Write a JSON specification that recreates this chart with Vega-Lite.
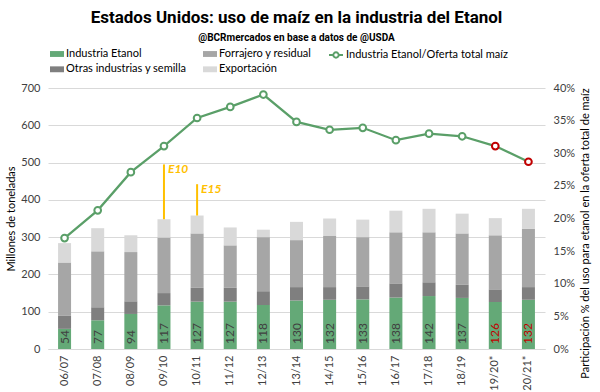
{
  "$schema": "https://vega.github.io/schema/vega-lite/v6.json",
  "autosize": {"type": "none"},
  "padding": {"left": 48, "top": 88, "right": 55, "bottom": 43},
  "width": 497,
  "height": 261,
  "background": "white",
  "title": {
    "text": "Estados Unidos: uso de maíz en la industria del Etanol",
    "subtitle": "@BCRmercados en base a datos de @USDA",
    "anchor": "middle",
    "frame": "group",
    "font": "Roboto",
    "fontSize": 17,
    "fontWeight": "bold",
    "color": "#000000",
    "subtitleFont": "Roboto",
    "subtitleFontSize": 10,
    "subtitleFontWeight": "bold",
    "subtitleColor": "#000000",
    "subtitlePadding": 6,
    "offset": 3
  },
  "datasets": {
    "usos": [
      {"season": "06/07", "serie": "Industria Etanol", "valor": 54},
      {"season": "06/07", "serie": "Otras industrias y semilla", "valor": 36},
      {"season": "06/07", "serie": "Forrajero y residual", "valor": 142},
      {"season": "06/07", "serie": "Exportación", "valor": 52},
      {"season": "07/08", "serie": "Industria Etanol", "valor": 77},
      {"season": "07/08", "serie": "Otras industrias y semilla", "valor": 35},
      {"season": "07/08", "serie": "Forrajero y residual", "valor": 150},
      {"season": "07/08", "serie": "Exportación", "valor": 62},
      {"season": "08/09", "serie": "Industria Etanol", "valor": 94},
      {"season": "08/09", "serie": "Otras industrias y semilla", "valor": 34},
      {"season": "08/09", "serie": "Forrajero y residual", "valor": 132},
      {"season": "08/09", "serie": "Exportación", "valor": 45},
      {"season": "09/10", "serie": "Industria Etanol", "valor": 117},
      {"season": "09/10", "serie": "Otras industrias y semilla", "valor": 33},
      {"season": "09/10", "serie": "Forrajero y residual", "valor": 149},
      {"season": "09/10", "serie": "Exportación", "valor": 49},
      {"season": "10/11", "serie": "Industria Etanol", "valor": 127},
      {"season": "10/11", "serie": "Otras industrias y semilla", "valor": 37},
      {"season": "10/11", "serie": "Forrajero y residual", "valor": 146},
      {"season": "10/11", "serie": "Exportación", "valor": 48},
      {"season": "11/12", "serie": "Industria Etanol", "valor": 127},
      {"season": "11/12", "serie": "Otras industrias y semilla", "valor": 37},
      {"season": "11/12", "serie": "Forrajero y residual", "valor": 114},
      {"season": "11/12", "serie": "Exportación", "valor": 48},
      {"season": "12/13", "serie": "Industria Etanol", "valor": 118},
      {"season": "12/13", "serie": "Otras industrias y semilla", "valor": 37},
      {"season": "12/13", "serie": "Forrajero y residual", "valor": 145},
      {"season": "12/13", "serie": "Exportación", "valor": 20},
      {"season": "13/14", "serie": "Industria Etanol", "valor": 130},
      {"season": "13/14", "serie": "Otras industrias y semilla", "valor": 36},
      {"season": "13/14", "serie": "Forrajero y residual", "valor": 126},
      {"season": "13/14", "serie": "Exportación", "valor": 49},
      {"season": "14/15", "serie": "Industria Etanol", "valor": 132},
      {"season": "14/15", "serie": "Otras industrias y semilla", "valor": 34},
      {"season": "14/15", "serie": "Forrajero y residual", "valor": 137},
      {"season": "14/15", "serie": "Exportación", "valor": 47},
      {"season": "15/16", "serie": "Industria Etanol", "valor": 133},
      {"season": "15/16", "serie": "Otras industrias y semilla", "valor": 35},
      {"season": "15/16", "serie": "Forrajero y residual", "valor": 132},
      {"season": "15/16", "serie": "Exportación", "valor": 47},
      {"season": "16/17", "serie": "Industria Etanol", "valor": 138},
      {"season": "16/17", "serie": "Otras industrias y semilla", "valor": 38},
      {"season": "16/17", "serie": "Forrajero y residual", "valor": 137},
      {"season": "16/17", "serie": "Exportación", "valor": 58},
      {"season": "17/18", "serie": "Industria Etanol", "valor": 142},
      {"season": "17/18", "serie": "Otras industrias y semilla", "valor": 37},
      {"season": "17/18", "serie": "Forrajero y residual", "valor": 134},
      {"season": "17/18", "serie": "Exportación", "valor": 63},
      {"season": "18/19", "serie": "Industria Etanol", "valor": 137},
      {"season": "18/19", "serie": "Otras industrias y semilla", "valor": 35},
      {"season": "18/19", "serie": "Forrajero y residual", "valor": 138},
      {"season": "18/19", "serie": "Exportación", "valor": 53},
      {"season": "19/20*", "serie": "Industria Etanol", "valor": 126},
      {"season": "19/20*", "serie": "Otras industrias y semilla", "valor": 34},
      {"season": "19/20*", "serie": "Forrajero y residual", "valor": 145},
      {"season": "19/20*", "serie": "Exportación", "valor": 46},
      {"season": "20/21*", "serie": "Industria Etanol", "valor": 132},
      {"season": "20/21*", "serie": "Otras industrias y semilla", "valor": 34},
      {"season": "20/21*", "serie": "Forrajero y residual", "valor": 156},
      {"season": "20/21*", "serie": "Exportación", "valor": 54}
    ],
    "apilado": [
      {"serie": "Industria Etanol", "orden": 1},
      {"serie": "Otras industrias y semilla", "orden": 2},
      {"serie": "Forrajero y residual", "orden": 3},
      {"serie": "Exportación", "orden": 4}
    ],
    "ratio": [
      {"season": "06/07", "pct": 0.170},
      {"season": "07/08", "pct": 0.2125},
      {"season": "08/09", "pct": 0.271},
      {"season": "09/10", "pct": 0.311},
      {"season": "10/11", "pct": 0.354},
      {"season": "11/12", "pct": 0.371},
      {"season": "12/13", "pct": 0.390},
      {"season": "13/14", "pct": 0.348},
      {"season": "14/15", "pct": 0.336},
      {"season": "15/16", "pct": 0.339},
      {"season": "16/17", "pct": 0.320},
      {"season": "17/18", "pct": 0.330},
      {"season": "18/19", "pct": 0.326},
      {"season": "19/20*", "pct": 0.311},
      {"season": "20/21*", "pct": 0.287}
    ],
    "eventos": [
      {"season": "09/10", "evento": "E10", "desde": 348, "hasta": 495},
      {"season": "10/11", "evento": "E15", "desde": 358, "hasta": 442}
    ]
  },
  "layer": [
    {
      "layer": [
        {
          "data": {"name": "usos"},
          "transform": [{"lookup": "serie", "from": {"data": {"name": "apilado"}, "key": "serie", "fields": ["orden"]}}],
          "mark": {"type": "bar", "size": 13},
          "encoding": {
            "x": {
              "field": "season", "type": "ordinal", "sort": null,
              "axis": {"title": null, "labelAngle": 270, "labelFontSize": 11, "labelColor": "#404040", "labelPadding": 6, "ticks": false, "domain": true, "domainColor": "#D9D9D9"}
            },
            "y": {
              "field": "valor", "type": "quantitative", "stack": "zero",
              "scale": {"domain": [0, 700]},
              "axis": {"title": "Millones de toneladas", "values": [0, 100, 200, 300, 400, 500, 600, 700], "grid": true, "gridColor": "#D9D9D9", "domain": false, "ticks": false, "labelPadding": 8, "labelFontSize": 11, "labelColor": "#404040", "labelOverlap": false, "titleFontSize": 11, "titleFontWeight": "normal", "titleColor": "#000000", "titlePadding": 4}
            },
            "order": {"field": "orden", "type": "quantitative", "sort": "ascending"},
            "color": {
              "field": "serie", "type": "nominal",
              "scale": {"domain": ["Industria Etanol", "Otras industrias y semilla", "Forrajero y residual", "Exportación"], "range": ["#64A977", "#7F7F7F", "#A6A6A6", "#D9D9D9"]},
              "legend": {
                "orient": "none", "legendX": 2, "legendY": -41, "direction": "horizontal", "columns": 2,
                "values": ["Industria Etanol", "Forrajero y residual", "Otras industrias y semilla", "Exportación"],
                "title": null, "padding": 0, "columnPadding": 16, "rowPadding": 3.3,
                "symbolType": "M-1,-0.42H1V0.42H-1Z", "symbolSize": 196, "symbolStrokeWidth": 0,
                "labelFontSize": 11, "labelColor": "#000000", "labelOffset": 2
              }
            }
          }
        },
        {
          "data": {"name": "usos"},
          "transform": [{"filter": "datum.serie === 'Industria Etanol'"}],
          "mark": {"type": "text", "angle": 270, "align": "left", "baseline": "middle", "dx": 5, "fontSize": 12},
          "encoding": {
            "x": {"field": "season", "type": "ordinal", "sort": null},
            "y": {"datum": 0, "type": "quantitative", "axis": {"title": "Millones de toneladas", "values": [0, 100, 200, 300, 400, 500, 600, 700], "grid": true, "gridColor": "#D9D9D9", "domain": false, "ticks": false, "labelPadding": 8, "labelFontSize": 11, "labelColor": "#404040", "labelOverlap": false, "titleFontSize": 11, "titleFontWeight": "normal", "titleColor": "#000000", "titlePadding": 4}},
            "text": {"field": "valor", "type": "quantitative"},
            "color": {"condition": {"test": "datum.season === '19/20*' || datum.season === '20/21*'", "value": "#C00000"}, "value": "#404040"}
          }
        },
        {
          "data": {"name": "eventos"},
          "mark": {"type": "rule", "color": "#FFC000", "strokeWidth": 2},
          "encoding": {
            "x": {"field": "season", "type": "ordinal", "sort": null},
            "y": {"field": "desde", "type": "quantitative", "axis": {"title": "Millones de toneladas", "values": [0, 100, 200, 300, 400, 500, 600, 700], "grid": true, "gridColor": "#D9D9D9", "domain": false, "ticks": false, "labelPadding": 8, "labelFontSize": 11, "labelColor": "#404040", "labelOverlap": false, "titleFontSize": 11, "titleFontWeight": "normal", "titleColor": "#000000", "titlePadding": 4}},
            "y2": {"field": "hasta"}
          }
        },
        {
          "data": {"name": "eventos"},
          "mark": {"type": "text", "align": "left", "baseline": "top", "dx": 4, "dy": 0, "fontSize": 12, "fontWeight": "bold", "fontStyle": "italic", "color": "#FFC000"},
          "encoding": {
            "x": {"field": "season", "type": "ordinal", "sort": null},
            "y": {"field": "hasta", "type": "quantitative", "axis": {"title": "Millones de toneladas", "values": [0, 100, 200, 300, 400, 500, 600, 700], "grid": true, "gridColor": "#D9D9D9", "domain": false, "ticks": false, "labelPadding": 8, "labelFontSize": 11, "labelColor": "#404040", "labelOverlap": false, "titleFontSize": 11, "titleFontWeight": "normal", "titleColor": "#000000", "titlePadding": 4}},
            "text": {"field": "evento"}
          }
        }
      ]
    },
    {
      "layer": [
        {
          "data": {"name": "ratio"},
          "mark": {"type": "line", "color": "#5A9F68", "strokeWidth": 2.25},
          "encoding": {
            "x": {"field": "season", "type": "ordinal", "sort": null},
            "y": {
              "field": "pct", "type": "quantitative",
              "scale": {"domain": [0, 0.4]},
              "axis": {"orient": "right", "title": "Participación % del uso para etanol en la oferta total de maíz", "values": [0, 0.05, 0.1, 0.15, 0.2, 0.25, 0.3, 0.35, 0.4], "format": ".0%", "grid": false, "domain": false, "ticks": false, "labelPadding": 8, "labelFontSize": 11, "labelColor": "#404040", "labelOverlap": false, "titleFontSize": 11, "titleFontWeight": "normal", "titleColor": "#000000", "titleAngle": 270, "titlePadding": 16, "titleY": 145}
            }
          }
        },
        {
          "data": {"name": "ratio"},
          "mark": {"type": "point", "filled": true, "fill": "white", "size": 45, "strokeWidth": 2, "opacity": 1},
          "encoding": {
            "x": {"field": "season", "type": "ordinal", "sort": null},
            "y": {"field": "pct", "type": "quantitative", "axis": {"orient": "right", "title": "Participación % del uso para etanol en la oferta total de maíz", "values": [0, 0.05, 0.1, 0.15, 0.2, 0.25, 0.3, 0.35, 0.4], "format": ".0%", "grid": false, "domain": false, "ticks": false, "labelPadding": 8, "labelFontSize": 11, "labelColor": "#404040", "labelOverlap": false, "titleFontSize": 11, "titleFontWeight": "normal", "titleColor": "#000000", "titleAngle": 270, "titlePadding": 16, "titleY": 145}},
            "stroke": {
              "datum": "Industria Etanol/Oferta total maíz",
              "scale": {"range": ["#5A9F68"]},
              "condition": {"test": "datum.season === '19/20*' || datum.season === '20/21*'", "value": "#C00000"},
              "legend": {
                "orient": "none", "legendX": 280, "legendY": -41, "title": null, "padding": 0,
                "symbolType": "M-1,0H-0.38M0.38,0H1M0.38,0A0.38,0.38 0 1,1 -0.38,0A0.38,0.38 0 1,1 0.38,0",
                "symbolSize": 196, "symbolFillColor": "white", "symbolStrokeWidth": 2, "symbolStrokeColor": "#5A9F68",
                "labelFontSize": 11, "labelColor": "#000000", "labelOffset": 2, "labelLimit": 300
              }
            }
          }
        }
      ]
    }
  ],
  "resolve": {"scale": {"y": "independent"}},
  "config": {
    "view": {"stroke": null},
    "font": "Lato",
    "scale": {"bandPaddingInner": 0.6}
  }
}
